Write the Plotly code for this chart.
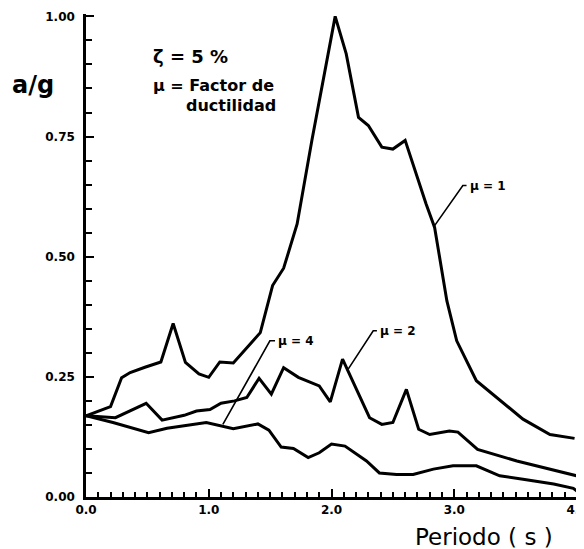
import plotly.graph_objects as go

# Period (s) and spectral acceleration a/g for each ductility factor
t_mu1 = [0.0, 0.2, 0.29, 0.36, 0.48, 0.61, 0.71, 0.81, 0.92, 1.0, 1.09, 1.2, 1.42, 1.52, 1.61, 1.72,
         1.84, 2.03, 2.12, 2.22, 2.30, 2.41, 2.50, 2.60, 2.77, 2.84, 2.94, 2.99, 3.02, 3.18, 3.37,
         3.56, 3.78, 3.98]
a_mu1 = [0.169, 0.188, 0.248, 0.259, 0.27, 0.281, 0.361, 0.28, 0.256, 0.249, 0.281, 0.279, 0.342,
         0.44, 0.476, 0.568, 0.742, 1.0, 0.922, 0.79, 0.773, 0.728, 0.724, 0.742, 0.61, 0.561, 0.408,
         0.353, 0.325, 0.242, 0.203, 0.162, 0.13, 0.122]

t_mu2 = [0.0, 0.24, 0.49, 0.62, 0.8, 0.9, 1.01, 1.1, 1.21, 1.31, 1.41, 1.51, 1.61, 1.73, 1.9, 1.99,
         2.09, 2.31, 2.41, 2.50, 2.61, 2.71, 2.80, 2.96, 3.03, 3.19, 3.51, 4.0]
a_mu2 = [0.169, 0.165, 0.195, 0.16, 0.17, 0.179, 0.182, 0.195, 0.2, 0.207, 0.247, 0.214, 0.269, 0.249,
         0.231, 0.198, 0.287, 0.165, 0.151, 0.155, 0.224, 0.141, 0.13, 0.1375, 0.135, 0.099, 0.075, 0.044]

t_mu4 = [0.0, 0.22, 0.51, 0.66, 0.98, 1.09, 1.2, 1.40, 1.49, 1.59, 1.69, 1.81, 1.9, 2.0, 2.11, 2.285,
         2.39, 2.53, 2.665, 2.83, 2.99, 3.18, 3.37, 3.56, 3.81, 3.97, 4.0]
a_mu4 = [0.169, 0.155, 0.134, 0.143, 0.155, 0.148, 0.142, 0.152, 0.139, 0.104, 0.101, 0.082, 0.092,
         0.11, 0.106, 0.075, 0.05, 0.047, 0.047, 0.058, 0.065, 0.065, 0.044, 0.037, 0.027, 0.018, 0.012]

# Curve labels and their leader lines (start on curve, elbow, end)
label_texts = ["μ = 1", "μ = 2", "μ = 4"]
leader_t = [[2.83, 3.07, 3.10], [2.136, 2.34, 2.37], [1.115, 1.498, 1.54]]
leader_a = [[0.561, 0.648, 0.648], [0.266, 0.346, 0.346], [0.151, 0.325, 0.325]]

y_tick_vals = [0.0, 0.25, 0.5, 0.75, 1.0]
x_tick_vals = [0.0, 1.0, 2.0, 3.0, 4.0]

FONT = "DejaVu Sans"
fig = go.Figure()

for t, a in [(t_mu1, a_mu1), (t_mu2, a_mu2), (t_mu4, a_mu4)]:
    fig.add_trace(go.Scatter(x=t, y=a, mode="lines", line=dict(color="black", width=3),
                             showlegend=False, hoverinfo="skip"))

for txt, lt, la in zip(label_texts, leader_t, leader_a):
    fig.add_trace(go.Scatter(x=lt, y=la, mode="lines", line=dict(color="black", width=1.6),
                             showlegend=False, hoverinfo="skip"))
    fig.add_annotation(x=lt[-1] + 0.01, y=la[-1], text=txt, showarrow=False, xanchor="left",
                       yanchor="middle", font=dict(family=FONT, size=12, color="black", weight="bold"))

fig.add_annotation(x=0.53, y=0.917, text="ζ = 5 %", showarrow=False, xanchor="left", yanchor="middle",
                   font=dict(family=FONT, size=18, color="black", weight="bold"))
fig.add_annotation(x=0.53, y=0.856, text="μ = Factor de", showarrow=False, xanchor="left",
                   yanchor="middle", font=dict(family=FONT, size=16, color="black", weight="bold"))
fig.add_annotation(x=0.80, y=0.815, text="ductilidad", showarrow=False, xanchor="left",
                   yanchor="middle", font=dict(family=FONT, size=16, color="black", weight="bold"))
fig.add_annotation(xref="paper", yref="paper", x=-0.107, y=0.854, text="a/g", showarrow=False,
                   xanchor="center", yanchor="middle",
                   font=dict(family=FONT, size=24, color="black", weight="bold"))
fig.add_annotation(xref="x", yref="paper", x=3.245, y=-0.083, text="Periodo ( s )", showarrow=False,
                   xanchor="center", yanchor="middle",
                   font=dict(family=FONT, size=23, color="black"))

axis_common = dict(showgrid=False, zeroline=False, showline=True, linecolor="black", linewidth=2.5,
                   ticks="inside", tickcolor="black", tickwidth=2, ticklen=8, automargin=False,
                   ticklabeloverflow="allow",
                   tickfont=dict(family=FONT, size=12, color="black", weight="bold"))

fig.update_xaxes(range=[0, 4], tickvals=x_tick_vals, tickformat=".1f",
                 minor=dict(dtick=0.1, ticks="inside", ticklen=5, tickwidth=2, tickcolor="black"),
                 **axis_common)
fig.update_yaxes(range=[0, 1.005], tickvals=y_tick_vals, tickformat=".2f", ticklabelstandoff=6,
                 minor=dict(dtick=0.05, ticks="inside", ticklen=6, tickwidth=2, tickcolor="black"),
                 **axis_common)

fig.update_layout(width=576, height=541, margin=dict(l=78, r=7, t=6, b=52, autoexpand=False),
                  plot_bgcolor="white", paper_bgcolor="white", showlegend=False)

fig.write_html("out.html")
